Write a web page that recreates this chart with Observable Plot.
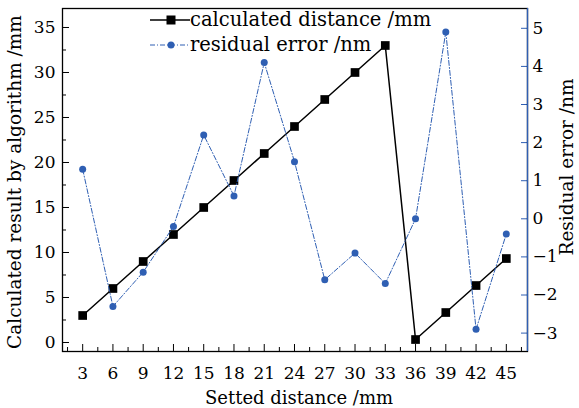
<!DOCTYPE html>
<html><head><meta charset="utf-8">
<script src="https://cdn.jsdelivr.net/npm/d3@7"></script>
<script src="https://cdn.jsdelivr.net/npm/@observablehq/plot@0.6"></script>
<style>body{margin:0;background:#fff} #chart{width:579px;height:408px}</style>
</head><body><div id="chart"></div>
<script>
const settedDistance = [3,6,9,12,15,18,21,24,27,30,33,36,39,42,45];
const calculatedDistance = [3,6,9,12,15,18,21,24,27,30,33,0.33,3.33,6.33,9.33];
const residualError = [1.3,-2.3,-1.4,-0.2,2.2,0.6,4.1,1.5,-1.6,-0.9,-1.7,0,4.9,-2.9,-0.4];
const xTicks = [3,6,9,12,15,18,21,24,27,30,33,36,39,42,45];
const xMinorTicks = [1.5,4.5,7.5,10.5,13.5,16.5,19.5,22.5,25.5,28.5,31.5,34.5,37.5,40.5,43.5,46.5];
const leftTicks = [0,5,10,15,20,25,30,35];
const leftMinorTicks = [2.5,7.5,12.5,17.5,22.5,27.5,32.5];
const rightTicks = [-3,-2,-1,0,1,2,3,4,5];
const legendLabels = ["calculated distance /mm","residual error /nm"];
const xTitle = "Setted distance /mm";
const leftTitle = "Calculated result by algorithm /mm";
const rightTitle = "Residual error /nm";

const xDomain = [1, 47.1];
const leftDomain = [-1, 37.11];
const rightDomain = [-3.483, 5.52];
const blue = "#2f5fb3";
const r2l = d3.scaleLinear(rightDomain, leftDomain);
const fmt = d3.format("d");

const data = settedDistance.map((x, i) => ({x, calc: calculatedDistance[i], res: residualError[i]}));

const chart = Plot.plot({
  width: 579, height: 408,
  marginTop: 8, marginBottom: 57, marginLeft: 62, marginRight: 52,
  style: {fontFamily: "DejaVu Serif", fontSize: "17px", background: "white", color: "black"},
  x: {domain: xDomain},
  y: {domain: leftDomain},
  marks: [
    // x axis
    Plot.axisX({ticks: xTicks, tickSize: 0, tickPadding: 15, label: null, tickFormat: fmt}),
    Plot.axisX({ticks: xTicks, tickSize: -7, text: null, label: null}),
    Plot.axisX({ticks: xMinorTicks, tickSize: -4, text: null, label: null}),
    // left axis
    Plot.axisY({ticks: leftTicks, tickSize: 0, tickPadding: 7, label: null, tickFormat: fmt}),
    Plot.axisY({ticks: leftTicks, tickSize: -7, text: null, label: null}),
    Plot.axisY({ticks: leftMinorTicks, tickSize: -4, text: null, label: null}),
    // right axis
    Plot.axisY({anchor: "right", ticks: rightTicks.map(r2l), tickSize: 0, tickPadding: 5, label: null,
      tickFormat: d => d3.format("d")(Math.round(r2l.invert(d)))}),
    Plot.axisY({anchor: "right", ticks: rightTicks.map(r2l), tickSize: -7, text: null, label: null, stroke: blue}),
    Plot.frame({stroke: "black", strokeWidth: 1.3}),
    Plot.ruleX([xDomain[1]], {stroke: blue, strokeWidth: 1.3}),
    // titles
    Plot.text([xTitle], {frameAnchor: "bottom", textAnchor: "middle", dx: 4, dy: 47, lineAnchor: "middle", fill: "black", fontSize: 18}),
    Plot.text([leftTitle], {frameAnchor: "left", textAnchor: "middle", dx: -47, dy: 2, rotate: -90, lineAnchor: "middle", fill: "black", fontSize: 18.5}),
    Plot.text([rightTitle], {frameAnchor: "right", textAnchor: "middle", dx: 40, dy: -13, rotate: -90, lineAnchor: "middle", fill: "black", fontSize: 18.5}),
    // series
    Plot.line(data, {x: "x", y: "calc", stroke: "black", strokeWidth: 1.5}),
    Plot.dot(data, {x: "x", y: "calc", symbol: "square", fill: "black", r: 4.9}),
    Plot.line(data, {x: "x", y: d => r2l(d.res), stroke: blue, strokeWidth: 1, strokeDasharray: "5,2,1,2"}),
    Plot.dot(data, {x: "x", y: d => r2l(d.res), fill: blue, r: 3.5})
  ]
});
document.getElementById("chart").appendChild(chart);

// legend inside plot
const svg = d3.select(chart);
const lg = svg.append("g").attr("font-family", "DejaVu Serif").attr("font-size", 19.5).attr("text-anchor", "start");
const rows = [
  {y: 20, stroke: "black", dash: null, w: 1.5, sym: "square", fill: "black"},
  {y: 45, stroke: blue, dash: "5,2,1,2", w: 1, sym: "circle", fill: blue}
];
rows.forEach((r, i) => {
  lg.append("line").attr("x1", 150).attr("x2", 190).attr("y1", r.y).attr("y2", r.y)
    .attr("stroke", r.stroke).attr("stroke-width", r.w).attr("stroke-dasharray", r.dash);
  if (r.sym === "square") lg.append("rect").attr("x", 171 - 4.5).attr("y", r.y - 4.5).attr("width", 9).attr("height", 9).attr("fill", r.fill);
  else lg.append("circle").attr("cx", 171).attr("cy", r.y).attr("r", 3.5).attr("fill", r.fill);
  lg.append("text").attr("x", 190).attr("y", r.y).attr("dy", "0.32em").attr("fill", "black").text(legendLabels[i]);
});
</script>
</body></html>
